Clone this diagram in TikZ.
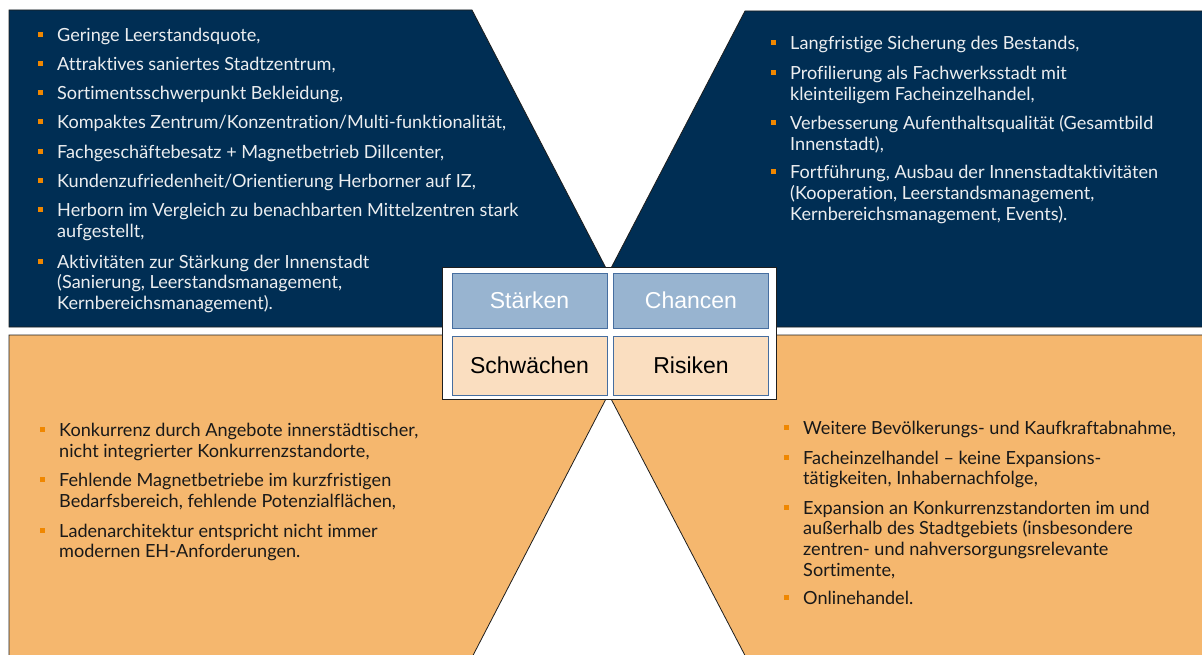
\documentclass[tikz,border=0pt]{standalone}
\usepackage{fontspec}
\newfontfamily\listfont[Ligatures={NoCommon}]{Lato}
\newfontfamily\labelfont{Liberation Sans}
\definecolor{navy}{RGB}{0,46,84}
\definecolor{orfill}{RGB}{245,183,110}
\definecolor{bluebox}{RGB}{152,180,208}
\definecolor{boxborder}{RGB}{70,110,160}
\definecolor{peach}{RGB}{250,222,192}
\definecolor{bulletor}{RGB}{240,135,0}
\definecolor{lighttext}{RGB}{236,238,240}
\definecolor{darktext}{RGB}{25,25,25}
\definecolor{outline}{RGB}{30,30,30}
\tikzset{
  quad/.style={draw=outline, line width=0.8pt},
  lbox/.style={draw=boxborder, line width=1pt, minimum width=155pt, minimum height=55pt, inner sep=0pt, font=\labelfont\fontsize{23}{26}\selectfont},
  itemtxt/.style={inner sep=0pt, anchor=base west, font=\listfont\fontsize{18.1}{20.8}\selectfont},
  bul/.style={fill=bulletor, minimum size=5pt, inner sep=0pt}
}
\newcommand{\bitem}[5]{% name, x, baseline y, colour, text
  \node[itemtxt, text=#4] (#1) at (#2,#3) {\parbox[t]{600pt}{\raggedright #5}};
  \node[bul] (#1b) at ([xshift=-17pt,yshift=7pt]#1.base west) {};
}
\begin{document}
\begin{tikzpicture}[x=1pt,y=-1pt]
\useasboundingbox (0,0) rectangle (1202,655);
% quadrants
\path[quad, fill=navy] (9,10) -- (472,10) -- (608,272) -- (608,327) -- (9,327) -- cycle;
\path[quad, fill=navy] (745,11) -- (1210,11) -- (1210,327) -- (609,327) -- (609,272) -- cycle;
\path[quad, fill=orfill] (9,335) -- (608,335) -- (608,395) -- (468,665) -- (9,665) -- cycle;
\path[quad, fill=orfill] (609,335) -- (1210,335) -- (1210,665) -- (750,665) -- (609,395) -- cycle;
% central frame
\node[draw=outline, line width=0.8pt, fill=white, minimum width=334pt, minimum height=132pt, inner sep=0pt] (frame) at (609,333) {};
\node[lbox, fill=bluebox, text=white] (st) at (529.5,300.5) {Stärken};
\node[lbox, fill=bluebox, text=white] (ch) at (691,300.5) {Chancen};
\node[lbox, fill=peach, text=black, minimum height=59pt] (sw) at (529.5,365.5) {Schwächen};
\node[lbox, fill=peach, text=black, minimum height=59pt] (ri) at (691,365.5) {Risiken};
% Stärken list
\bitem{s1}{57}{42}{lighttext}{Geringe Leerstandsquote,}
\bitem{s2}{57}{71}{lighttext}{Attraktives saniertes Stadtzentrum,}
\bitem{s3}{57}{100}{lighttext}{Sortimentsschwerpunkt Bekleidung,}
\bitem{s4}{57}{129}{lighttext}{Kompaktes Zentrum/Konzentration/Multi-funktionalität,}
\bitem{s5}{57}{158.5}{lighttext}{Fachgeschäftebesatz + Magnetbetrieb Dillcenter,}
\bitem{s6}{57}{187.5}{lighttext}{Kundenzufriedenheit/Orientierung Herborner auf IZ,}
\bitem{s7}{57}{217}{lighttext}{Herborn im Vergleich zu benachbarten Mittelzentren stark\\aufgestellt,}
\bitem{s8}{57}{268}{lighttext}{Aktivitäten zur Stärkung der Innenstadt\\(Sanierung, Leerstandsmanagement,\\Kernbereichsmanagement).}
% Chancen list
\bitem{c1}{790}{50}{lighttext}{Langfristige Sicherung des Bestands,}
\bitem{c2}{790}{79.5}{lighttext}{Profilierung als Fachwerksstadt mit\\kleinteiligem Facheinzelhandel,}
\bitem{c3}{790}{129.5}{lighttext}{Verbesserung Aufenthaltsqualität (Gesamtbild\\Innenstadt),}
\bitem{c4}{790}{179}{lighttext}{Fortführung, Ausbau der Innenstadtaktivitäten\\(Kooperation, Leerstandsmanagement,\\Kernbereichsmanagement, Events).}
% Schwächen list
\bitem{w1}{59}{436.5}{darktext}{Konkurrenz durch Angebote innerstädtischer,\\nicht integrierter Konkurrenzstandorte,}
\bitem{w2}{59}{486.5}{darktext}{Fehlende Magnetbetriebe im kurzfristigen\\Bedarfsbereich, fehlende Potenzialflächen,}
\bitem{w3}{59}{537}{darktext}{Ladenarchitektur entspricht nicht immer\\modernen EH-Anforderungen.}
% Risiken list
\bitem{r1}{803}{434.5}{darktext}{Weitere Bevölkerungs- und Kaufkraftabnahme,}
\bitem{r2}{803}{464}{darktext}{Facheinzelhandel – keine Expansions-\\tätigkeiten, Inhabernachfolge,}
\bitem{r3}{803}{514}{darktext}{Expansion an Konkurrenzstandorten im und\\außerhalb des Stadtgebiets (insbesondere\\zentren- und nahversorgungsrelevante\\Sortimente,}
\bitem{r4}{803}{604.5}{darktext}{Onlinehandel.}
\end{tikzpicture}
\end{document}
